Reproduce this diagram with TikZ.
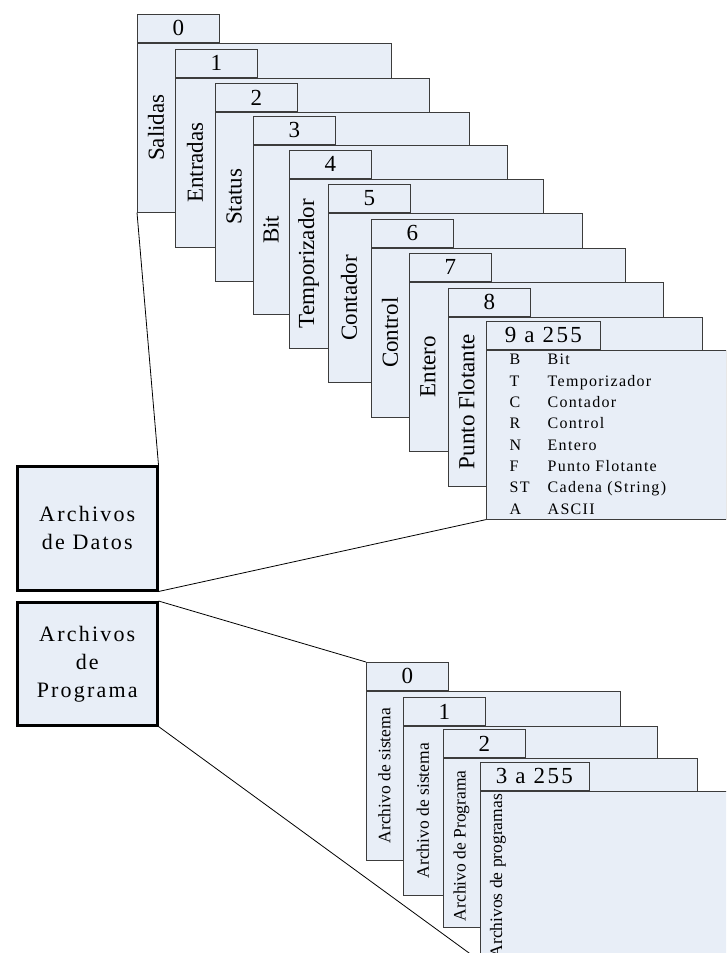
\documentclass[tikz,border=0pt]{standalone}
\usepackage{fontspec}
\setmainfont{Liberation Serif}
\usetikzlibrary{calc}
\definecolor{cardfill}{RGB}{232,238,247}
\definecolor{cardline}{RGB}{60,60,60}

\begin{document}
\begin{tikzpicture}[x=1pt,y=-1pt]
% Styles
\tikzstyle{filetab} = [rectangle, anchor=north west, minimum width=82pt, minimum height=28pt, inner sep=0pt, draw=cardline, fill=cardfill, line width=0.8pt, font=\fontsize{23}{26}\selectfont]
\tikzstyle{filecard} = [rectangle, anchor=north west, minimum width=254pt, minimum height=169pt, inner sep=0pt, draw=cardline, fill=cardfill, line width=0.8pt]
\tikzstyle{filelabel} = [rotate=90, inner sep=0pt, font=\fontsize{23}{26}\selectfont]
\tikzstyle{proglabel} = [rotate=90, inner sep=0pt, font=\fontsize{17.5}{20}\selectfont]
\tikzstyle{bigbox} = [rectangle, anchor=north west, minimum width=140pt, minimum height=124pt, inner sep=0pt, draw=black, line width=2.5pt, fill=cardfill, align=center, font=\fontsize{22}{28}\selectfont\addfontfeature{LetterSpace=10}]
\tikzstyle{link} = [line width=0.8pt, black]

\useasboundingbox (0,0) rectangle (726,953);
\clip (0,0) rectangle (726,953);

% Data files
\node (tabD0) [filetab] at (137,14) {0};
\node (bodyD0) [filecard] at (tabD0.south west) {};
\node (lblD0) [filelabel] at ($(bodyD0.west)+(19,0)$) {Salidas};
\node (tabD1) [filetab] at (175,49) {1};
\node (bodyD1) [filecard] at (tabD1.south west) {};
\node (lblD1) [filelabel] at ($(bodyD1.west)+(20,0)$) {Entradas};
\node (tabD2) [filetab] at (215,83) {2};
\node (bodyD2) [filecard] at (tabD2.south west) {};
\node (lblD2) [filelabel] at ($(bodyD2.west)+(19,0)$) {Status};
\node (tabD3) [filetab] at (253,116) {3};
\node (bodyD3) [filecard] at (tabD3.south west) {};
\node (lblD3) [filelabel] at ($(bodyD3.west)+(18,0)$) {Bit};
\node (tabD4) [filetab] at (289,150) {4};
\node (bodyD4) [filecard] at (tabD4.south west) {};
\node (lblD4) [filelabel] at ($(bodyD4.west)+(19.5,0)$) {Temporizador};
\node (tabD5) [filetab] at (328,184) {5};
\node (bodyD5) [filecard] at (tabD5.south west) {};
\node (lblD5) [filelabel] at ($(bodyD5.west)+(21,0)$) {Contador};
\node (tabD6) [filetab] at (371,219) {6};
\node (bodyD6) [filecard] at (tabD6.south west) {};
\node (lblD6) [filelabel] at ($(bodyD6.west)+(19,0)$) {Control};
\node (tabD7) [filetab] at (409,253) {7};
\node (bodyD7) [filecard] at (tabD7.south west) {};
\node (lblD7) [filelabel] at ($(bodyD7.west)+(19,0)$) {Entero};
\node (tabD8) [filetab] at (448,288) {8};
\node (bodyD8) [filecard] at (tabD8.south west) {};
\node (lblD8) [filelabel] at ($(bodyD8.west)+(18.5,0)$) {Punto Flotante};
\node (tabD9) [filetab, minimum width=114pt, font=\fontsize{23}{26}\selectfont\addfontfeature{LetterSpace=10}] at (486,321) {9 a 255};
\node (bodyD9) [filecard, minimum width=240pt] at (tabD9.south west) {};
\node (codes) [anchor=north west, inner sep=0pt, font=\fontsize{16}{21.3}\selectfont\addfontfeature{LetterSpace=8}] at ($(bodyD9.north west)+(23.5,0)$) {%
\begin{tabular}{@{}p{38pt}@{}l@{}}
B & Bit\\
T & Temporizador\\
C & Contador\\
R & Control\\
N & Entero\\
F & Punto Flotante\\
ST & Cadena (String)\\
A & ASCII
\end{tabular}};

% Program files
\node (tabP0) [filetab] at (366,662) {0};
\node (bodyP0) [filecard] at (tabP0.south west) {};
\node (lblP0) [proglabel] at ($(bodyP0.west)+(18.5,0)$) {Archivo de sistema};
\node (tabP1) [filetab] at (403,697) {1};
\node (bodyP1) [filecard] at (tabP1.south west) {};
\node (lblP1) [proglabel] at ($(bodyP1.west)+(20,0)$) {Archivo de sistema};
\node (tabP2) [filetab] at (443,729) {2};
\node (bodyP2) [filecard] at (tabP2.south west) {};
\node (lblP2) [proglabel] at ($(bodyP2.west)+(18.5,3)$) {Archivo de Programa};
\node (tabP3) [filetab, minimum width=109pt, font=\fontsize{23}{26}\selectfont\addfontfeature{LetterSpace=10}] at (479.5,762) {3 a 255};
\node (bodyP3) [filecard] at (tabP3.south west) {};
\node (lblP3) [proglabel] at ($(bodyP3.west)+(18.5,0)$) {Archivos de programas};

% Main boxes
\node (datos) [bigbox] at (16,465) {Archivos\\de Datos};
\node (programa) [bigbox, minimum height=123pt] at (16,601) {Archivos\\de\\Programa};

% Links
\draw [link] (datos.north east) -- (bodyD0.south west);
\draw [link] (datos.south east) -- (bodyD9.south west);
\draw [link] (programa.north east) -- (tabP0.north west);
\draw [link] (programa.south east) -- (bodyP3.south west);
\end{tikzpicture}
\end{document}
